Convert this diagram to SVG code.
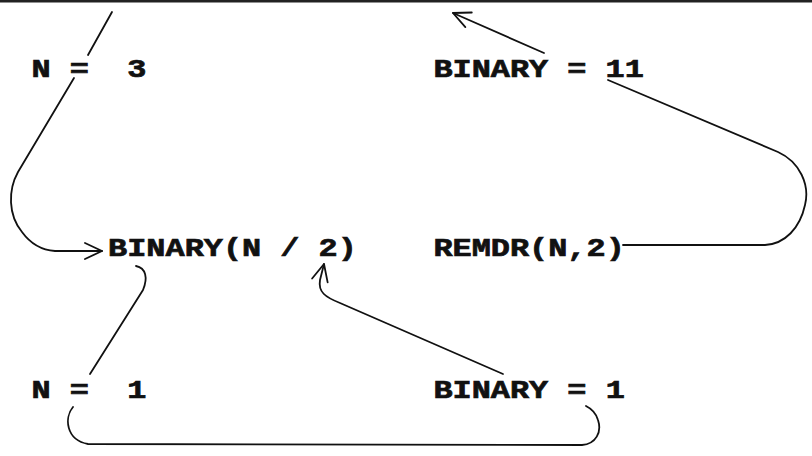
<svg xmlns="http://www.w3.org/2000/svg" width="812" height="456" viewBox="0 0 812 456">
<style>
  .lbl { font-family: "Liberation Mono", "Courier New", monospace; font-weight: bold; font-size: 26px; fill: #111; stroke: #111; stroke-width: 0.7; }
  .con { fill: none; stroke: #111; stroke-width: 1.8; stroke-linecap: round; stroke-linejoin: round; }
</style>
<defs>
  <marker id="arr" markerUnits="userSpaceOnUse" markerWidth="24" markerHeight="24" viewBox="0 0 24 24" refX="20" refY="12" orient="auto">
    <path d="M3,4 L20,12 L3,20" fill="none" stroke="#111" stroke-width="1.8" stroke-linecap="round" stroke-linejoin="round"/>
  </marker>
</defs>
<rect x="0" y="0" width="812" height="2.5" fill="#222"/>
<g id="connectors">
  <path class="con" d="M112,12 L88,55"/>
  <path class="con" d="M74,78 L18,172 C8,190 8,215 22,232 C30,243 40,250 55,251 L102,251" marker-end="url(#arr)"/>
  <path class="con" d="M136,266 C146,268 148,278 143,290 L90,374"/>
  <path class="con" d="M503,374 L340,303 C325,297 318,292 320,280 L324,264" marker-end="url(#arr)"/>
  <path class="con" d="M73,407 C64,418 66,440 88,444 L582,445 C596,444 602,432 598,420 C596,413 592,409 586,406"/>
  <path class="con" d="M623,245 L765,245 C785,244 800,228 805,205 C810,185 800,162 778,152 L608,80"/>
  <path class="con" d="M544,53 L453,13" marker-end="url(#arr)"/>
</g>
<g id="n_eq_3"><text class="lbl" x="31.5" y="77" textLength="114.8" lengthAdjust="spacingAndGlyphs" xml:space="preserve">N =  3</text></g>
<g id="binary_eq_11"><text class="lbl" x="433.4" y="77" textLength="210.5" lengthAdjust="spacingAndGlyphs">BINARY = 11</text></g>
<g id="binary_call"><text class="lbl" x="108.1" y="256" textLength="248.8" lengthAdjust="spacingAndGlyphs">BINARY(N / 2)</text></g>
<g id="remdr_call"><text class="lbl" x="433.4" y="256" textLength="191.4" lengthAdjust="spacingAndGlyphs">REMDR(N,2)</text></g>
<g id="n_eq_1"><text class="lbl" x="31.5" y="398" textLength="114.8" lengthAdjust="spacingAndGlyphs" xml:space="preserve">N =  1</text></g>
<g id="binary_eq_1"><text class="lbl" x="433.4" y="398" textLength="191.4" lengthAdjust="spacingAndGlyphs">BINARY = 1</text></g>
</svg>
